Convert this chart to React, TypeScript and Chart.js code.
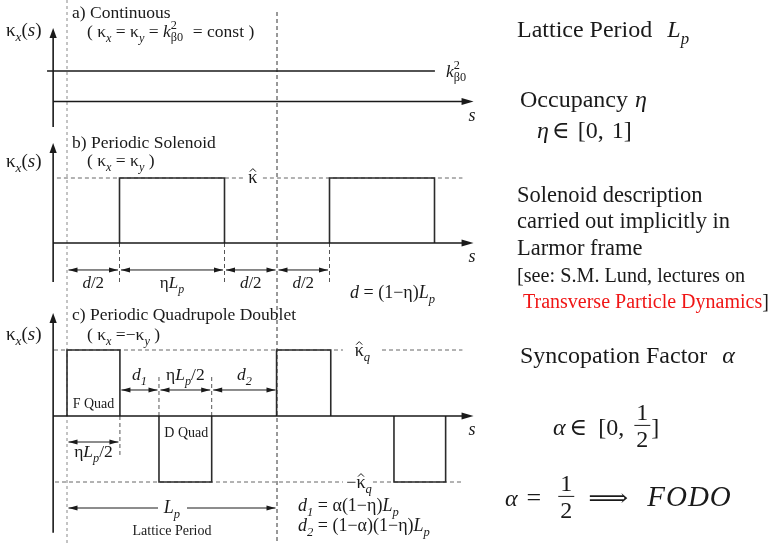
import React, { useEffect, useRef } from "react";
import { Chart, registerables } from "chart.js";

Chart.register(...registerables);

// ---------------- data ----------------
// s in lattice periods (Lp); kappa in units of each panel's peak strength
const continuousS = [-0.095, 1.752];
const continuousKappa = [1, 1];

const solenoidBlocks: number[][] = [[0.25, 0.75], [1.25, 1.75]];
const solenoidKappa = 1;

const fQuadBlocks: number[][] = [[0.0, 0.252], [0.998, 1.256]];
const dQuadBlocks: number[][] = [[0.438, 0.689], [1.557, 1.803]];
const fQuadKappa = 1;
const dQuadKappa = -1;

const solenoidDims: number[][] = [[0, 0.25], [0.25, 0.75], [0.75, 1.0], [1.0, 1.25]];
const solenoidDimLabels = ["d/2", "ηLp", "d/2", "d/2"];
const quadDims: number[][] = [[0.252, 0.438], [0.438, 0.689], [0.689, 1.0]];
const quadDimLabels = ["d1", "ηLp/2", "d2"];
const fQuadDim: number[] = [0, 0.252];
const periodDim: number[] = [0, 1];

// ---------------- layout ----------------
const W = 773;
const H = 544;
const S0_PX = 67;
const LP_PX = 210;
const PANEL: Record<string, { base: number; unit: number; top: number; bottom: number }> = {
  ya: { base: 101.5, unit: 30.5, top: 2.41, bottom: -0.84 },
  yb: { base: 243, unit: 65, top: 1.54, bottom: -0.6 },
  yc: { base: 416, unit: 66, top: 1.56, bottom: -1.77 },
};
const AXIS_S = -0.066;
const ARROW_TIP_S = 1.936;
const SERIF = '"Liberation Serif", "Times New Roman", "DejaVu Serif", serif';
const INK = "#1a1a1a";
const LINE = "#2b2b2b";

type Seg = {
  t?: string;
  i?: boolean;
  sub?: boolean;
  sup?: boolean;
  hat?: boolean;
  c?: string;
  frac?: [string, string];
  pad?: number;
  ss?: [string, string];
  gap?: number;
  f?: string;
  size?: number;
  sx?: number; // target width (horizontal stretch)
};

const fnt = (size: number, italic: boolean, family?: string) =>
  `${italic ? "italic " : ""}${size}px ${family || SERIF}`;

function segWidth(ctx: CanvasRenderingContext2D, s: Seg, size0: number) {
  const size = s.size || size0;
  if (s.gap !== undefined) return s.gap;
  if (s.sx !== undefined) return s.sx;
  if (s.frac) {
    ctx.font = fnt(size, false);
    return Math.max(ctx.measureText(s.frac[0]).width, ctx.measureText(s.frac[1]).width) + (s.pad ?? 4);
  }
  if (s.ss) {
    const fs = size * 0.7;
    ctx.font = fnt(fs, false);
    return Math.max(ctx.measureText(s.ss[0]).width, ctx.measureText(s.ss[1]).width) + 1;
  }
  const fs = s.sub || s.sup ? size * 0.7 : size;
  ctx.font = fnt(fs, !!s.i, s.f);
  return ctx.measureText(s.t || "").width;
}

function rich(
  ctx: CanvasRenderingContext2D,
  x: number,
  y: number,
  segs: Seg[],
  size0: number,
  align: "left" | "center" | "right" = "left",
  color = INK
) {
  const widths = segs.map((s) => segWidth(ctx, s, size0));
  const total = widths.reduce((a, b) => a + b, 0);
  let cx = align === "center" ? x - total / 2 : align === "right" ? x - total : x;
  ctx.save();
  ctx.textBaseline = "alphabetic";
  ctx.textAlign = "left";
  segs.forEach((s, k) => {
    const w = widths[k];
    const size = s.size || size0;
    const col = s.c || color;
    ctx.fillStyle = col;
    ctx.strokeStyle = col;
    if (s.gap !== undefined) {
      // spacing only
    } else if (s.frac) {
      ctx.font = fnt(size, false);
      const bar = y - size * 0.4;
      ctx.lineWidth = 1;
      ctx.beginPath();
      ctx.moveTo(cx + 1, bar);
      ctx.lineTo(cx + w - 1, bar);
      ctx.stroke();
      ctx.textAlign = "center";
      ctx.fillText(s.frac[0], cx + w / 2, bar - size * 0.23);
      ctx.fillText(s.frac[1], cx + w / 2, bar + size * 0.9);
      ctx.textAlign = "left";
    } else if (s.ss) {
      ctx.font = fnt(size * 0.7, false);
      ctx.fillText(s.ss[0], cx, y - size * 0.45);
      ctx.fillText(s.ss[1], cx, y + size * 0.25);
    } else if (s.sx !== undefined) {
      ctx.font = fnt(size, !!s.i, s.f);
      const nat = ctx.measureText(s.t || "").width || 1;
      ctx.save();
      ctx.translate(cx, y);
      ctx.scale(w / nat, 1);
      ctx.fillText(s.t || "", 0, 0);
      ctx.restore();
    } else {
      const fs = s.sub || s.sup ? size * 0.7 : size;
      const dy = s.sub ? size * 0.28 : s.sup ? -size * 0.42 : 0;
      ctx.font = fnt(fs, !!s.i, s.f);
      ctx.fillText(s.t || "", cx, y + dy);
      if (s.hat) {
        const mid = cx + w / 2;
        const top = y - size * 0.8;
        ctx.lineWidth = 1;
        ctx.beginPath();
        ctx.moveTo(mid - 3, top + 3);
        ctx.lineTo(mid, top);
        ctx.lineTo(mid + 3, top + 3);
        ctx.stroke();
      }
    }
    cx += w;
  });
  ctx.restore();
}

function dline(
  ctx: CanvasRenderingContext2D,
  x1: number,
  y1: number,
  x2: number,
  y2: number,
  color = "#444",
  dash = [4, 3]
) {
  ctx.save();
  ctx.strokeStyle = color;
  ctx.lineWidth = 1;
  ctx.setLineDash(dash);
  ctx.beginPath();
  ctx.moveTo(x1, y1);
  ctx.lineTo(x2, y2);
  ctx.stroke();
  ctx.restore();
}

function head(
  ctx: CanvasRenderingContext2D,
  tx: number,
  ty: number,
  dx: number,
  dy: number,
  len: number,
  half: number,
  color = INK
) {
  ctx.save();
  ctx.fillStyle = color;
  ctx.beginPath();
  ctx.moveTo(tx, ty);
  ctx.lineTo(tx - dx * len - dy * half, ty - dy * len + dx * half);
  ctx.lineTo(tx - dx * len + dy * half, ty - dy * len - dx * half);
  ctx.closePath();
  ctx.fill();
  ctx.restore();
}

function dimArrow(ctx: CanvasRenderingContext2D, x1: number, x2: number, y: number, gapFrom?: number, gapTo?: number) {
  const a = x1 + 1.5;
  const b = x2 - 1.5;
  ctx.save();
  ctx.strokeStyle = INK;
  ctx.lineWidth = 1;
  ctx.beginPath();
  if (gapFrom !== undefined && gapTo !== undefined) {
    ctx.moveTo(a, y);
    ctx.lineTo(gapFrom, y);
    ctx.moveTo(gapTo, y);
    ctx.lineTo(b, y);
  } else {
    ctx.moveTo(a, y);
    ctx.lineTo(b, y);
  }
  ctx.stroke();
  ctx.restore();
  head(ctx, a, y, -1, 0, 9, 2.6);
  head(ctx, b, y, 1, 0, 9, 2.6);
}

function labelSegs(key: string): Seg[] {
  switch (key) {
    case "d/2":
      return [{ t: "d", i: true }, { t: "/2" }];
    case "ηLp":
      return [{ t: "η" }, { t: "L", i: true }, { t: "p", i: true, sub: true }];
    case "ηLp/2":
      return [{ t: "η" }, { t: "L", i: true }, { t: "p", i: true, sub: true }, { t: "/2" }];
    case "d1":
      return [{ t: "d", i: true }, { t: "1", i: true, sub: true }];
    case "d2":
      return [{ t: "d", i: true }, { t: "2", i: true, sub: true }];
    default:
      return [{ t: key }];
  }
}

const kappaLabel: Seg[] = [{ t: "κ" }, { t: "x", i: true, sub: true }, { t: "(" }, { t: "s", i: true }, { t: ")" }];

const diagramPlugin = {
  id: "diagram",
  beforeDatasetsDraw(chart: any) {
    const ctx: CanvasRenderingContext2D = chart.ctx;
    const X = (s: number) => chart.scales.x.getPixelForValue(s);
    const Y = (id: string, v: number) => chart.scales[id].getPixelForValue(v);
    ctx.save();
    ctx.fillStyle = "#fff";
    ctx.fillRect(0, 0, W, H);
    ctx.restore();

    // period boundaries
    dline(ctx, X(periodDim[0]), 0, X(periodDim[0]), H, "#8a8a8a", [3, 3]);
    dline(ctx, X(periodDim[1]), 12, X(periodDim[1]), H, "#333", [4, 3]);

    // level guides panel b
    const yb1 = Y("yb", solenoidKappa);
    dline(ctx, X(-0.048), yb1, X(0.838), yb1, "#666");
    dline(ctx, X(0.933), yb1, X(1.883), yb1, "#666");
    // level guides panel c
    const yc1 = Y("yc", fQuadKappa);
    const yc2 = Y("yc", dQuadKappa);
    dline(ctx, X(-0.062), yc1, X(1.314), yc1, "#666");
    dline(ctx, X(1.5), yc1, X(1.883), yc1, "#666");
    dline(ctx, X(-0.057), yc2, X(1.314), yc2, "#666");
    dline(ctx, X(1.457), yc2, X(1.883), yc2, "#666");

    // extension lines panel b
    [solenoidBlocks[0][0], solenoidBlocks[0][1], solenoidBlocks[1][0]].forEach((s) =>
      dline(ctx, X(s), Y("yb", 0), X(s), Y("yb", -0.61), "#555")
    );
    // extension lines panel c
    [dQuadBlocks[0][0], dQuadBlocks[0][1]].forEach((s) =>
      dline(ctx, X(s), Y("yc", 0), X(s), Y("yc", 0.61), "#555")
    );
    dline(ctx, X(fQuadBlocks[0][1]), Y("yc", 0), X(fQuadBlocks[0][1]), Y("yc", -0.59), "#555");
  },
  afterDatasetsDraw(chart: any) {
    const ctx: CanvasRenderingContext2D = chart.ctx;
    const X = (s: number) => chart.scales.x.getPixelForValue(s);
    const Y = (id: string, v: number) => chart.scales[id].getPixelForValue(v);

    // axes
    const ax = X(AXIS_S);
    const tip = X(ARROW_TIP_S);
    ["ya", "yb", "yc"].forEach((id) => {
      const p = PANEL[id];
      const top = Y(id, p.top);
      const bot = Y(id, p.bottom);
      const y0 = Y(id, 0);
      ctx.save();
      ctx.strokeStyle = INK;
      ctx.lineWidth = 1.6;
      ctx.beginPath();
      ctx.moveTo(ax, bot);
      ctx.lineTo(ax, top + 6);
      ctx.moveTo(ax, y0);
      ctx.lineTo(tip - 6, y0);
      ctx.stroke();
      ctx.restore();
      head(ctx, ax, top, 0, -1, 10, 3.6);
      head(ctx, tip, y0, 1, 0, 12, 3.6);
      rich(ctx, tip - 5, y0 + 19, [{ t: "s", i: true }], 18);
    });

    const TS = 17.5;
    // ---- panel a text ----
    rich(ctx, 6, 36, kappaLabel, 19);
    rich(ctx, 72, 18, [{ t: "a) Continuous" }], TS);
    rich(
      ctx,
      87,
      37,
      [
        { t: "( κ" },
        { t: "x", i: true, sub: true },
        { t: " = κ" },
        { t: "y", i: true, sub: true },
        { t: " = " },
        { t: "k", i: true },
        { ss: ["2", "β0"] },
        { t: "  = const )" },
      ],
      TS
    );
    rich(ctx, X(continuousS[1]) + 11, Y("ya", continuousKappa[1]) + 6, [{ t: "k", i: true }, { ss: ["2", "β0"] }], 17.5);

    // ---- panel b text ----
    rich(ctx, 6, 167, kappaLabel, 19);
    rich(ctx, 72, 148, [{ t: "b) Periodic Solenoid" }], TS);
    rich(ctx, 87, 166, [{ t: "( κ" }, { t: "x", i: true, sub: true }, { t: " = κ" }, { t: "y", i: true, sub: true }, { t: " )" }], TS);
    rich(ctx, X(0.885), Y("yb", solenoidKappa) + 5, [{ t: "κ", hat: true }], 18, "center");
    const ybd = Y("yb", -0.415);
    solenoidDims.forEach((d, k) => {
      dimArrow(ctx, X(d[0]), X(d[1]), ybd);
      rich(ctx, (X(d[0]) + X(d[1])) / 2, ybd + 18, labelSegs(solenoidDimLabels[k]), 17, "center");
    });
    rich(
      ctx,
      350,
      298,
      [{ t: "d", i: true }, { t: " = (1−η)" }, { t: "L", i: true }, { t: "p", i: true, sub: true }],
      18
    );

    // ---- panel c text ----
    rich(ctx, 6, 340, kappaLabel, 19);
    rich(ctx, 72, 320, [{ t: "c) Periodic Quadrupole Doublet" }], TS);
    rich(ctx, 87, 340, [{ t: "( κ" }, { t: "x", i: true, sub: true }, { t: " =−κ" }, { t: "y", i: true, sub: true }, { t: " )" }], TS);
    rich(ctx, X(1.37), Y("yc", fQuadKappa) + 6, [{ t: "κ", hat: true }, { t: "q", i: true, sub: true }], 18, "left");
    rich(ctx, X(1.33), Y("yc", dQuadKappa) + 6, [{ t: "−" }, { t: "κ", hat: true }, { t: "q", i: true, sub: true }], 18, "left");
    const ycd = Y("yc", 0.394);
    quadDims.forEach((d, k) => {
      dimArrow(ctx, X(d[0]), X(d[1]), ycd);
      rich(ctx, (X(d[0]) + X(d[1])) / 2, ycd - 10, labelSegs(quadDimLabels[k]), 17.5, "center");
    });
    const yfd = Y("yc", -0.394);
    dimArrow(ctx, X(fQuadDim[0]), X(fQuadDim[1]), yfd);
    rich(ctx, (X(fQuadDim[0]) + X(fQuadDim[1])) / 2, yfd + 15, labelSegs("ηLp/2"), 17.5, "center");
    rich(ctx, (X(fQuadBlocks[0][0]) + X(fQuadBlocks[0][1])) / 2, 408, [{ t: "F Quad" }], 14, "center");
    rich(ctx, (X(dQuadBlocks[0][0]) + X(dQuadBlocks[0][1])) / 2 + 1, 437, [{ t: "D Quad" }], 14, "center");
    const ylp = Y("yc", -1.394);
    const mid = (X(periodDim[0]) + X(periodDim[1])) / 2;
    dimArrow(ctx, X(periodDim[0]), X(periodDim[1]), ylp, mid - 14, mid + 15);
    rich(ctx, mid, ylp + 5, [{ t: "L", i: true }, { t: "p", i: true, sub: true }], 18, "center");
    rich(ctx, mid, 535, [{ t: "Lattice Period" }], 14, "center");
    rich(
      ctx,
      298,
      511,
      [{ t: "d", i: true }, { t: "1", i: true, sub: true }, { t: " = α(1−η)" }, { t: "L", i: true }, { t: "p", i: true, sub: true }],
      18
    );
    rich(
      ctx,
      298,
      531,
      [
        { t: "d", i: true },
        { t: "2", i: true, sub: true },
        { t: " = (1−α)(1−η)" },
        { t: "L", i: true },
        { t: "p", i: true, sub: true },
      ],
      18
    );

    // ---- right column ----
    rich(ctx, 517, 37, [{ t: "Lattice Period" }, { gap: 15 }, { t: "L", i: true }, { t: "p", i: true, sub: true }], 24);
    rich(ctx, 520, 107, [{ t: "Occupancy" }, { gap: 7 }, { t: "η", i: true }], 24);
    rich(ctx, 537, 138, [{ t: "η", i: true }, { gap: 3 }, { t: "∈" }, { gap: 8 }, { t: "[0," }, { gap: 8 }, { t: "1]" }], 24);
    rich(ctx, 517, 202, [{ t: "Solenoid description" }], 22.5);
    rich(ctx, 517, 228, [{ t: "carried out implicitly in" }], 22.5);
    rich(ctx, 517, 255, [{ t: "Larmor frame" }], 22.5);
    rich(ctx, 517, 282, [{ t: "[see: S.M. Lund, lectures on" }], 20.2);
    rich(ctx, 523, 308, [{ t: "Transverse Particle Dynamics", c: "#f01515" }, { t: "]" }], 20);
    rich(ctx, 520, 363, [{ t: "Syncopation Factor" }, { gap: 15 }, { t: "α", i: true }], 24);
    rich(
      ctx,
      553,
      435,
      [
        { t: "α", i: true },
        { gap: 4 },
        { t: "∈" },
        { gap: 11 },
        { t: "[0," },
        { gap: 9 },
        { frac: ["1", "2"], pad: 6 },
        { t: "]" },
      ],
      24
    );
    rich(
      ctx,
      505,
      506,
      [
        { t: "α", i: true },
        { gap: 9 },
        { t: "=", size: 26 },
        { gap: 16 },
        { frac: ["1", "2"], pad: 6 },
        { gap: 13 },
        { t: "⟹", f: '"DejaVu Serif", "DejaVu Sans", serif', sx: 40 },
        { gap: 19 },
        { t: "F", i: true, size: 29 },
        { gap: 1 },
        { t: "O", i: true, size: 29 },
        { gap: 1 },
        { t: "D", i: true, size: 29 },
        { gap: 1 },
        { t: "O", i: true, size: 29 },
      ],
      24
    );
  },
};

const blockPoints = (b: number[], k: number) => [
  { x: b[0], y: 0 },
  { x: b[0], y: k },
  { x: b[1], y: k },
  { x: b[1], y: 0 },
];

export default function App() {
  const ref = useRef<HTMLCanvasElement>(null);
  useEffect(() => {
    const common = {
      showLine: true,
      pointRadius: 0,
      pointHoverRadius: 0,
      borderColor: LINE,
      borderWidth: 1.6,
      fill: false,
      tension: 0,
    };
    const datasets: any[] = [
      { ...common, borderColor: INK, yAxisID: "ya", data: continuousS.map((s, i) => ({ x: s, y: continuousKappa[i] })) },
      ...solenoidBlocks.map((b) => ({ ...common, yAxisID: "yb", data: blockPoints(b, solenoidKappa) })),
      ...fQuadBlocks.map((b) => ({ ...common, yAxisID: "yc", data: blockPoints(b, fQuadKappa) })),
      ...dQuadBlocks.map((b) => ({ ...common, yAxisID: "yc", data: blockPoints(b, dQuadKappa) })),
    ];
    const yScale = (id: string) => ({
      type: "linear" as const,
      display: false,
      position: "left" as const,
      min: (PANEL[id].base - H) / PANEL[id].unit,
      max: PANEL[id].base / PANEL[id].unit,
    });
    const chart = new Chart(ref.current as HTMLCanvasElement, {
      type: "scatter",
      data: { datasets },
      options: {
        animation: false,
        responsive: false,
        devicePixelRatio: 1,
        layout: { padding: 0 },
        events: [],
        plugins: { legend: { display: false }, tooltip: { enabled: false }, title: { display: false } },
        scales: {
          x: { type: "linear", display: false, min: -S0_PX / LP_PX, max: (W - S0_PX) / LP_PX },
          ya: yScale("ya"),
          yb: yScale("yb"),
          yc: yScale("yc"),
        },
      } as any,
      plugins: [diagramPlugin],
    });
    return () => chart.destroy();
  }, []);
  return (
    <canvas
      ref={ref}
      width={W}
      height={H}
      style={{ position: "fixed", left: 0, top: 0, width: W, height: H, display: "block", background: "#fff" }}
    />
  );
}
